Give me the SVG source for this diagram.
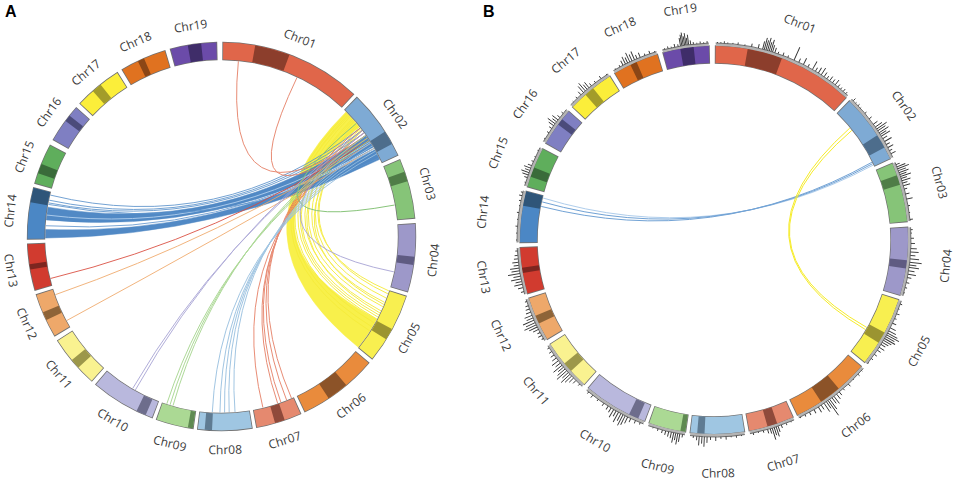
<svg xmlns="http://www.w3.org/2000/svg" width="957" height="482" viewBox="0 0 957 482">
<style>
.lbl{font-family:"Open Sans","Liberation Sans",sans-serif;font-size:12px;fill:#3a3a3a;text-anchor:middle;dominant-baseline:central}
.pl{font-family:"Liberation Sans",Arial,sans-serif;font-size:16px;font-weight:bold;fill:#000}
.ol{fill:none;stroke:#707070;stroke-width:18.4}
.seg{fill:none;stroke-width:17}
.bl{fill:none;stroke:#b4b4b4;stroke-width:2.6}
.bk{fill:none;stroke:#555;stroke-width:.8}
.h path{stroke:#333;stroke-width:.9;fill:none}
.lk path{fill:none;stroke-width:1}
</style>
<rect width="957" height="482" fill="#fff"/>
<text class="pl" x="5" y="17">A</text>
<text class="pl" x="483" y="17">B</text>

<!-- Panel A links -->
<g id="links-a" class="lk">
<path d="M345.95,112.05Q221.5,236.5 358.28,347.26A176,176 0 0 0 376.9,319.13Q221.5,236.5 359.24,126.94A176,176 0 0 0 345.95,112.05Z" style="fill:#f8ef3e;stroke:#f8ef3e;stroke-width:.5" opacity=".93"/>
<g stroke="#f6ec3a" opacity=".9">
<path d="M360.19,128.14Q265.5,236.5 387.91,293.8"/>
<path d="M361.1,129.3Q262.5,236.5 388.89,290.89"/>
<path d="M359.24,126.94Q259.5,236.5 386.35,298.14"/>
<path d="M358.28,125.74Q253.5,236.5 384.68,302.43"/>
<path d="M356.32,123.37Q248.5,236.5 382.9,306.68"/>
<path d="M354.33,121.03Q243.5,236.5 381.01,310.88"/>
<path d="M352.29,118.73Q238.5,236.5 379.01,315.03"/>
<path d="M350.22,116.47Q233.5,236.5 376.9,319.13"/>
<path d="M348.1,114.24Q229.5,236.5 374.68,323.17"/>
<path d="M362.06,130.58Q256.5,236.5 383.9,304.5"/>
<path d="M357.3,124.5Q246,236.5 380,313"/>
<path d="M353.3,119.9Q236,236.5 377.9,317"/>
<path d="M349.2,115.3Q226,236.5 372.36,327.15"/>
<path d="M347,113.1Q224,236.5 369.94,331.06"/>
</g>
<path d="M45.51,238.04Q221.5,236.5 379.69,159.35A176,176 0 0 0 374.68,149.83Q221.5,236.5 45.64,229.44A176,176 0 0 0 45.51,238.04Z" style="fill:#3f7dbf;stroke:#3f7dbf;stroke-width:.5" opacity=".9"/>
<path d="M46.28,219.94Q221.5,236.5 373.15,147.17A176,176 0 0 0 365.67,135.55Q221.5,236.5 47.96,207.15A176,176 0 0 0 46.28,219.94Z" style="fill:#3f7dbf;stroke:#3f7dbf;stroke-width:.5" opacity=".9"/>
<path d="M46.81,215.05Q221.5,236.5 369.94,141.94" stroke="#a9c9ea"/>
<path d="M45.83,225.76Q221.5,236.5 373.92,148.5" stroke="#7aa6d6"/>
<g stroke="#5c93cc" opacity=".85">
<path d="M49.28,200.21Q221.5,236.5 362.06,130.58"/>
<path d="M50.44,195.12Q221.5,236.5 360.19,128.14"/>
<path d="M48.73,202.92Q221.5,236.5 363.89,133.05"/>
<path d="M48.45,204.43Q221.5,236.5 379.01,157.97"/>
</g>
<g stroke="#e5795e" opacity=".85">
<path d="M238.37,61.31Q221.5,236.5 365.67,135.55"/>
<path d="M296.99,77.51Q221.5,236.5 367.41,138.08"/>
<path d="M291.4,398.02Q221.5,236.5 360.19,128.14"/>
<path d="M286.58,400.03Q221.5,236.5 362.06,130.58"/>
<path d="M280.83,402.2Q221.5,236.5 363.89,133.05"/>
<path d="M277.64,403.31Q221.5,236.5 365.67,135.55"/>
<path d="M262.88,407.56Q221.5,236.5 367.41,138.08"/>
</g>
<path d="M50.58,278.48Q221.5,236.5 369.11,140.64" stroke="#d8483a" opacity=".85"/>
<g stroke="#f0a868" opacity=".85">
<path d="M55.39,294.67Q221.5,236.5 370.76,143.23"/>
<path d="M66.83,320.48Q221.5,236.5 373.92,148.5"/>
</g>
<g stroke="#a9a5d6" opacity=".9">
<path d="M135.37,389.98Q221.5,236.5 362.06,130.58"/>
<path d="M132.7,388.46Q221.5,236.5 363.89,133.05"/>
<path d="M393.91,271.89Q221.5,236.5 365.67,135.55"/>
</g>
<g stroke="#a6d68e" opacity=".9">
<path d="M172.99,405.68Q221.5,236.5 365.67,135.55"/>
<path d="M170.04,404.81Q221.5,236.5 367.41,138.08"/>
<path d="M166.82,403.79Q221.5,236.5 369.11,140.64"/>
</g>
<path d="M394.66,205.03Q221.5,236.5 356.32,123.37" stroke="#88c47a"/>
<g stroke="#98c0e0" opacity=".9">
<path d="M235,411.98Q221.5,236.5 370.76,143.23"/>
<path d="M229.18,412.33Q221.5,236.5 372.36,145.85"/>
<path d="M224.57,412.47Q221.5,236.5 373.92,148.5"/>
<path d="M219.96,412.49Q221.5,236.5 375.43,151.17"/>
<path d="M212.29,412.26Q221.5,236.5 376.9,153.87"/>
</g>
</g>

<!-- Panel A chromosomes -->
<g id="a01" transform="translate(221.5 236.5)"><circle class="ol" r="185.5" pathLength="360" stroke-dasharray="42.8 400" transform="rotate(-89.75)"/><circle class="seg" r="185.5" pathLength="360" stroke="#e0664a" stroke-dasharray="42.3 400" transform="rotate(-89.5)"/><circle class="seg" r="185.5" pathLength="360" stroke="#8c3e2c" stroke-dasharray="10.5 400" transform="rotate(-80)"/><text class="lbl" transform="rotate(21.65) translate(0 -213)">Chr01</text></g>
<g id="a02" transform="translate(221.5 236.5)"><circle class="ol" r="185.5" pathLength="360" stroke-dasharray="21.4 400" transform="rotate(-45.95)"/><circle class="seg" r="185.5" pathLength="360" stroke="#7eaad4" stroke-dasharray="20.9 400" transform="rotate(-45.7)"/><circle class="seg" r="185.5" pathLength="360" stroke="#4d6d8c" stroke-dasharray="4.2 400" transform="rotate(-32.7)"/><text class="lbl" transform="rotate(54.75) translate(0 -213)">Chr02</text></g>
<g id="a03" transform="translate(221.5 236.5)"><circle class="ol" r="185.5" pathLength="360" stroke-dasharray="18.2 400" transform="rotate(-23.45)"/><circle class="seg" r="185.5" pathLength="360" stroke="#86c478" stroke-dasharray="17.7 400" transform="rotate(-23.2)"/><circle class="seg" r="185.5" pathLength="360" stroke="#4f7d47" stroke-dasharray="3 400" transform="rotate(-19.5)"/><text class="lbl" transform="rotate(75.65) translate(0 -213)">Chr03</text></g>
<g id="a04" transform="translate(221.5 236.5)"><circle class="ol" r="185.5" pathLength="360" stroke-dasharray="20.7 400" transform="rotate(-3.95)"/><circle class="seg" r="185.5" pathLength="360" stroke="#9d98c9" stroke-dasharray="20.2 400" transform="rotate(-3.7)"/><circle class="seg" r="185.5" pathLength="360" stroke="#5f5b82" stroke-dasharray="2.5 400" transform="rotate(6)"/><text class="lbl" transform="rotate(96.4) translate(0 -213) rotate(180)">Chr04</text></g>
<g id="a05" transform="translate(221.5 236.5)"><circle class="ol" r="185.5" pathLength="360" stroke-dasharray="21.5 400" transform="rotate(17.75)"/><circle class="seg" r="185.5" pathLength="360" stroke="#f8ef50" stroke-dasharray="21 400" transform="rotate(18)"/><circle class="seg" r="185.5" pathLength="360" stroke="#9b9431" stroke-dasharray="3.5 400" transform="rotate(28.5)"/><text class="lbl" transform="rotate(118.5) translate(0 -213) rotate(180)">Chr05</text></g>
<g id="a06" transform="translate(221.5 236.5)"><circle class="ol" r="185.5" pathLength="360" stroke-dasharray="24.3 400" transform="rotate(40.45)"/><circle class="seg" r="185.5" pathLength="360" stroke="#e98b3c" stroke-dasharray="23.8 400" transform="rotate(40.7)"/><circle class="seg" r="185.5" pathLength="360" stroke="#8c5328" stroke-dasharray="6.5 400" transform="rotate(50)"/><text class="lbl" transform="rotate(142.6) translate(0 -213) rotate(180)">Chr06</text></g>
<g id="a07" transform="translate(221.5 236.5)"><circle class="ol" r="185.5" pathLength="360" stroke-dasharray="14 400" transform="rotate(65.75)"/><circle class="seg" r="185.5" pathLength="360" stroke="#e5896f" stroke-dasharray="13.5 400" transform="rotate(66)"/><circle class="seg" r="185.5" pathLength="360" stroke="#8f4a3b" stroke-dasharray="3 400" transform="rotate(71)"/><text class="lbl" transform="rotate(162.75) translate(0 -213) rotate(180)">Chr07</text></g>
<g id="a08" transform="translate(221.5 236.5)"><circle class="ol" r="185.5" pathLength="360" stroke-dasharray="16.5 400" transform="rotate(80.75)"/><circle class="seg" r="185.5" pathLength="360" stroke="#9fc6e2" stroke-dasharray="16 400" transform="rotate(81)"/><circle class="seg" r="185.5" pathLength="360" stroke="#5f7b92" stroke-dasharray="2.2 400" transform="rotate(92.8)"/><text class="lbl" transform="rotate(179) translate(0 -213) rotate(180)">Chr08</text></g>
<g id="a09" transform="translate(221.5 236.5)"><circle class="ol" r="185.5" pathLength="360" stroke-dasharray="11.5 400" transform="rotate(98.25)"/><circle class="seg" r="185.5" pathLength="360" stroke="#abd994" stroke-dasharray="11 400" transform="rotate(98.5)"/><circle class="seg" r="185.5" pathLength="360" stroke="#5f8a52" stroke-dasharray="1.5 400" transform="rotate(98.5)"/><text class="lbl" transform="rotate(194) translate(0 -213) rotate(180)">Chr09</text></g>
<g id="a10" transform="translate(221.5 236.5)"><circle class="ol" r="185.5" pathLength="360" stroke-dasharray="19.8 400" transform="rotate(110.75)"/><circle class="seg" r="185.5" pathLength="360" stroke="#b9b8dd" stroke-dasharray="19.3 400" transform="rotate(111)"/><circle class="seg" r="185.5" pathLength="360" stroke="#6d6d8c" stroke-dasharray="3 400" transform="rotate(113)"/><text class="lbl" transform="rotate(210.65) translate(0 -213) rotate(180)">Chr10</text></g>
<g id="a11" transform="translate(221.5 236.5)"><circle class="ol" r="185.5" pathLength="360" stroke-dasharray="16 400" transform="rotate(131.75)"/><circle class="seg" r="185.5" pathLength="360" stroke="#f9f290" stroke-dasharray="15.5 400" transform="rotate(132)"/><circle class="seg" r="185.5" pathLength="360" stroke="#9c974a" stroke-dasharray="3 400" transform="rotate(137.5)"/><text class="lbl" transform="rotate(229.75) translate(0 -213) rotate(180)">Chr11</text></g>
<g id="a12" transform="translate(221.5 236.5)"><circle class="ol" r="185.5" pathLength="360" stroke-dasharray="13.7 400" transform="rotate(149.05)"/><circle class="seg" r="185.5" pathLength="360" stroke="#eea86a" stroke-dasharray="13.2 400" transform="rotate(149.3)"/><circle class="seg" r="185.5" pathLength="360" stroke="#8e6438" stroke-dasharray="2.5 400" transform="rotate(154.5)"/><text class="lbl" transform="rotate(245.9) translate(0 -213) rotate(180)">Chr12</text></g>
<g id="a13" transform="translate(221.5 236.5)"><circle class="ol" r="185.5" pathLength="360" stroke-dasharray="14.2 400" transform="rotate(163.75)"/><circle class="seg" r="185.5" pathLength="360" stroke="#d13b2f" stroke-dasharray="13.7 400" transform="rotate(164)"/><circle class="seg" r="185.5" pathLength="360" stroke="#7d2620" stroke-dasharray="1.6 400" transform="rotate(170.2)"/><text class="lbl" transform="rotate(260.85) translate(0 -213) rotate(180)">Chr13</text></g>
<g id="a14" transform="translate(221.5 236.5)"><circle class="ol" r="185.5" pathLength="360" stroke-dasharray="15.7 400" transform="rotate(179.05)"/><circle class="seg" r="185.5" pathLength="360" stroke="#4b87c5" stroke-dasharray="15.2 400" transform="rotate(179.3)"/><circle class="seg" r="185.5" pathLength="360" stroke="#2f5579" stroke-dasharray="4.3 400" transform="rotate(190.2)"/><text class="lbl" transform="rotate(276.9) translate(0 -213)">Chr14</text></g>
<g id="a15" transform="translate(221.5 236.5)"><circle class="ol" r="185.5" pathLength="360" stroke-dasharray="12.5 400" transform="rotate(195.75)"/><circle class="seg" r="185.5" pathLength="360" stroke="#5fae5c" stroke-dasharray="12 400" transform="rotate(196)"/><circle class="seg" r="185.5" pathLength="360" stroke="#3a6b3a" stroke-dasharray="3 400" transform="rotate(199)"/><text class="lbl" transform="rotate(292) translate(0 -213)">Chr15</text></g>
<g id="a16" transform="translate(221.5 236.5)"><circle class="ol" r="185.5" pathLength="360" stroke-dasharray="12 400" transform="rotate(209.75)"/><circle class="seg" r="185.5" pathLength="360" stroke="#7f7fc2" stroke-dasharray="11.5 400" transform="rotate(210)"/><circle class="seg" r="185.5" pathLength="360" stroke="#4b4b7a" stroke-dasharray="2 400" transform="rotate(216.5)"/><text class="lbl" transform="rotate(305.75) translate(0 -213)">Chr16</text></g>
<g id="a17" transform="translate(221.5 236.5)"><circle class="ol" r="185.5" pathLength="360" stroke-dasharray="14.7 400" transform="rotate(223.05)"/><circle class="seg" r="185.5" pathLength="360" stroke="#fbee3a" stroke-dasharray="14.2 400" transform="rotate(223.3)"/><circle class="seg" r="185.5" pathLength="360" stroke="#a39c2a" stroke-dasharray="3 400" transform="rotate(228.5)"/><text class="lbl" transform="rotate(320.4) translate(0 -213)">Chr17</text></g>
<g id="a18" transform="translate(221.5 236.5)"><circle class="ol" r="185.5" pathLength="360" stroke-dasharray="14.2 400" transform="rotate(239.05)"/><circle class="seg" r="185.5" pathLength="360" stroke="#e07220" stroke-dasharray="13.7 400" transform="rotate(239.3)"/><circle class="seg" r="185.5" pathLength="360" stroke="#8b4616" stroke-dasharray="2 400" transform="rotate(244.5)"/><text class="lbl" transform="rotate(336.15) translate(0 -213)">Chr18</text></g>
<g id="a19" transform="translate(221.5 236.5)"><circle class="ol" r="185.5" pathLength="360" stroke-dasharray="14.2 400" transform="rotate(254.55)"/><circle class="seg" r="185.5" pathLength="360" stroke="#6b4ba9" stroke-dasharray="13.7 400" transform="rotate(254.8)"/><circle class="seg" r="185.5" pathLength="360" stroke="#3f2d69" stroke-dasharray="4 400" transform="rotate(260)"/><text class="lbl" transform="rotate(351.65) translate(0 -213)">Chr19</text></g>

<!-- Panel B links -->
<g id="links-b" class="lk">
<g stroke="#4f8ccb" opacity=".8">
<path d="M543.08,198.02Q714,250 873.25,165.06" stroke="#9cc2e8"/>
<path d="M542.17,201.91Q714,250 872.59,163.68"/>
<path d="M541.23,206.42Q714,250 871.92,162.29"/>
</g>
<g stroke="#f6ec2a" stroke-width="1.3">
<path d="M849.81,128.05Q720,244 865.49,329.59"/>
<path d="M851.74,130.44Q720,244 866.74,327.45"/>
</g>
</g>

<!-- Panel B chromosomes -->
<g id="b01" transform="translate(714 240)"><circle class="ol" r="185.5" pathLength="360" stroke-dasharray="42.8 400" transform="rotate(-89.75)"/><circle class="seg" r="185.5" pathLength="360" stroke="#e0664a" stroke-dasharray="42.3 400" transform="rotate(-89.5)"/><circle class="seg" r="185.5" pathLength="360" stroke="#8c3e2c" stroke-dasharray="10.5 400" transform="rotate(-80)"/><circle class="bl" r="195.5" pathLength="360" stroke-dasharray="42.3 400" transform="rotate(-89.5)"/><circle class="bk" r="197" pathLength="360" stroke-dasharray="42.3 400" transform="rotate(-89.5)"/>
<g class="h"><path d="M0-197v-1" transform="rotate(1)"/><path d="M0-197v-1" transform="rotate(2)"/><path d="M0-197v-2" transform="rotate(3)"/><path d="M0-197v-1" transform="rotate(4)"/><path d="M0-197v-1" transform="rotate(5.5)"/><path d="M0-197v-2" transform="rotate(7)"/><path d="M0-197v-1" transform="rotate(9)"/><path d="M0-197v-3" transform="rotate(11)"/><path d="M0-197v-4" transform="rotate(13)"/><path d="M0-197v-8" transform="rotate(14.3)"/><path d="M0-197v-12" transform="rotate(14.8)"/><path d="M0-197v-10" transform="rotate(15.3)"/><path d="M0-197v-13" transform="rotate(15.8)"/><path d="M0-197v-9" transform="rotate(16.3)"/><path d="M0-197v-12" transform="rotate(16.8)"/><path d="M0-197v-7" transform="rotate(17.3)"/><path d="M0-197v-5" transform="rotate(18)"/><path d="M0-197v-2" transform="rotate(19)"/><path d="M0-197v-3" transform="rotate(20.5)"/><path d="M0-197v-2" transform="rotate(22)"/><path d="M0-197v-14" transform="rotate(24)"/><path d="M0-197v-4" transform="rotate(25.5)"/><path d="M0-197v-7" transform="rotate(27)"/><path d="M0-197v-3" transform="rotate(28.5)"/><path d="M0-197v-9" transform="rotate(30)"/><path d="M0-197v-4" transform="rotate(31)"/><path d="M0-197v-6" transform="rotate(32)"/><path d="M0-197v-8" transform="rotate(33)"/><path d="M0-197v-5" transform="rotate(34)"/><path d="M0-197v-3" transform="rotate(35)"/><path d="M0-197v-5" transform="rotate(36)"/><path d="M0-197v-4" transform="rotate(37)"/><path d="M0-197v-6" transform="rotate(38)"/><path d="M0-197v-3" transform="rotate(39)"/><path d="M0-197v-2" transform="rotate(40)"/><path d="M0-197v-3" transform="rotate(41)"/><path d="M0-197v-2" transform="rotate(42)"/></g>
<text class="lbl" transform="rotate(21.65) translate(0 -233)">Chr01</text></g>
<g id="b02" transform="translate(714 240)"><circle class="ol" r="185.5" pathLength="360" stroke-dasharray="21.4 400" transform="rotate(-45.95)"/><circle class="seg" r="185.5" pathLength="360" stroke="#7eaad4" stroke-dasharray="20.9 400" transform="rotate(-45.7)"/><circle class="seg" r="185.5" pathLength="360" stroke="#4d6d8c" stroke-dasharray="4.2 400" transform="rotate(-32.7)"/><circle class="bl" r="195.5" pathLength="360" stroke-dasharray="20.9 400" transform="rotate(-45.7)"/><circle class="bk" r="197" pathLength="360" stroke-dasharray="20.9 400" transform="rotate(-45.7)"/>
<g class="h"><path d="M0-197v-3" transform="rotate(45)"/><path d="M0-197v-1" transform="rotate(46)"/><path d="M0-197v-2" transform="rotate(47)"/><path d="M0-197v-1" transform="rotate(48)"/><path d="M0-197v-2" transform="rotate(50)"/><path d="M0-197v-3" transform="rotate(52)"/><path d="M0-197v-5" transform="rotate(54)"/><path d="M0-197v-8" transform="rotate(55)"/><path d="M0-197v-12" transform="rotate(55.7)"/><path d="M0-197v-9" transform="rotate(56.3)"/><path d="M0-197v-11" transform="rotate(57)"/><path d="M0-197v-7" transform="rotate(57.6)"/><path d="M0-197v-10" transform="rotate(58.2)"/><path d="M0-197v-5" transform="rotate(59)"/><path d="M0-197v-8" transform="rotate(60)"/><path d="M0-197v-4" transform="rotate(61)"/><path d="M0-197v-6" transform="rotate(62)"/><path d="M0-197v-3" transform="rotate(63)"/><path d="M0-197v-5" transform="rotate(64)"/></g>
<text class="lbl" transform="rotate(54.75) translate(0 -233)">Chr02</text></g>
<g id="b03" transform="translate(714 240)"><circle class="ol" r="185.5" pathLength="360" stroke-dasharray="18.2 400" transform="rotate(-23.45)"/><circle class="seg" r="185.5" pathLength="360" stroke="#86c478" stroke-dasharray="17.7 400" transform="rotate(-23.2)"/><circle class="seg" r="185.5" pathLength="360" stroke="#4f7d47" stroke-dasharray="3 400" transform="rotate(-19.5)"/><circle class="bl" r="195.5" pathLength="360" stroke-dasharray="17.7 400" transform="rotate(-23.2)"/><circle class="bk" r="197" pathLength="360" stroke-dasharray="17.7 400" transform="rotate(-23.2)"/>
<g class="h"><path d="M0-197v-4" transform="rotate(67.5)"/><path d="M0-197v-9" transform="rotate(68.2)"/><path d="M0-197v-12" transform="rotate(68.8)"/><path d="M0-197v-8" transform="rotate(69.4)"/><path d="M0-197v-10" transform="rotate(70)"/><path d="M0-197v-7" transform="rotate(70.6)"/><path d="M0-197v-11" transform="rotate(71.2)"/><path d="M0-197v-6" transform="rotate(71.8)"/><path d="M0-197v-9" transform="rotate(72.5)"/><path d="M0-197v-5" transform="rotate(73.2)"/><path d="M0-197v-7" transform="rotate(74)"/><path d="M0-197v-3" transform="rotate(75)"/><path d="M0-197v-4" transform="rotate(76.5)"/><path d="M0-197v-6" transform="rotate(78)"/><path d="M0-197v-2" transform="rotate(80)"/><path d="M0-197v-1" transform="rotate(82)"/><path d="M0-197v-3" transform="rotate(84)"/></g>
<text class="lbl" transform="rotate(75.65) translate(0 -233)">Chr03</text></g>
<g id="b04" transform="translate(714 240)"><circle class="ol" r="185.5" pathLength="360" stroke-dasharray="20.7 400" transform="rotate(-3.95)"/><circle class="seg" r="185.5" pathLength="360" stroke="#9d98c9" stroke-dasharray="20.2 400" transform="rotate(-3.7)"/><circle class="seg" r="185.5" pathLength="360" stroke="#5f5b82" stroke-dasharray="2.5 400" transform="rotate(6)"/><circle class="bl" r="195.5" pathLength="360" stroke-dasharray="20.2 400" transform="rotate(-3.7)"/><circle class="bk" r="197" pathLength="360" stroke-dasharray="20.2 400" transform="rotate(-3.7)"/>
<g class="h"><path d="M0-197v-2" transform="rotate(87)"/><path d="M0-197v-1" transform="rotate(88)"/><path d="M0-197v-3" transform="rotate(89.5)"/><path d="M0-197v-4" transform="rotate(91)"/><path d="M0-197v-6" transform="rotate(92.5)"/><path d="M0-197v-8" transform="rotate(93.5)"/><path d="M0-197v-5" transform="rotate(94.5)"/><path d="M0-197v-9" transform="rotate(95.5)"/><path d="M0-197v-12" transform="rotate(96.5)"/><path d="M0-197v-7" transform="rotate(97.3)"/><path d="M0-197v-10" transform="rotate(98)"/><path d="M0-197v-6" transform="rotate(99)"/><path d="M0-197v-8" transform="rotate(100)"/><path d="M0-197v-4" transform="rotate(101)"/><path d="M0-197v-3" transform="rotate(102.5)"/><path d="M0-197v-2" transform="rotate(104)"/><path d="M0-197v-1" transform="rotate(105.5)"/></g>
<text class="lbl" transform="rotate(96.4) translate(0 -233) rotate(180)">Chr04</text></g>
<g id="b05" transform="translate(714 240)"><circle class="ol" r="185.5" pathLength="360" stroke-dasharray="21.5 400" transform="rotate(17.75)"/><circle class="seg" r="185.5" pathLength="360" stroke="#f8ef50" stroke-dasharray="21 400" transform="rotate(18)"/><circle class="seg" r="185.5" pathLength="360" stroke="#9b9431" stroke-dasharray="3.5 400" transform="rotate(28.5)"/><circle class="bl" r="195.5" pathLength="360" stroke-dasharray="21 400" transform="rotate(18)"/><circle class="bk" r="197" pathLength="360" stroke-dasharray="21 400" transform="rotate(18)"/>
<g class="h"><path d="M0-197v-2" transform="rotate(109)"/><path d="M0-197v-1" transform="rotate(110.5)"/><path d="M0-197v-3" transform="rotate(112)"/><path d="M0-197v-2" transform="rotate(113.5)"/><path d="M0-197v-4" transform="rotate(115)"/><path d="M0-197v-6" transform="rotate(116.5)"/><path d="M0-197v-8" transform="rotate(117.5)"/><path d="M0-197v-11" transform="rotate(118.2)"/><path d="M0-197v-14" transform="rotate(118.8)"/><path d="M0-197v-10" transform="rotate(119.4)"/><path d="M0-197v-12" transform="rotate(120)"/><path d="M0-197v-9" transform="rotate(120.6)"/><path d="M0-197v-7" transform="rotate(121.3)"/><path d="M0-197v-5" transform="rotate(122)"/><path d="M0-197v-6" transform="rotate(123)"/><path d="M0-197v-4" transform="rotate(124)"/><path d="M0-197v-3" transform="rotate(125.5)"/><path d="M0-197v-2" transform="rotate(127)"/><path d="M0-197v-1" transform="rotate(128.5)"/></g>
<text class="lbl" transform="rotate(118.5) translate(0 -233) rotate(180)">Chr05</text></g>
<g id="b06" transform="translate(714 240)"><circle class="ol" r="185.5" pathLength="360" stroke-dasharray="24.3 400" transform="rotate(40.45)"/><circle class="seg" r="185.5" pathLength="360" stroke="#e98b3c" stroke-dasharray="23.8 400" transform="rotate(40.7)"/><circle class="seg" r="185.5" pathLength="360" stroke="#8c5328" stroke-dasharray="6.5 400" transform="rotate(50)"/><circle class="bl" r="195.5" pathLength="360" stroke-dasharray="23.8 400" transform="rotate(40.7)"/><circle class="bk" r="197" pathLength="360" stroke-dasharray="23.8 400" transform="rotate(40.7)"/>
<g class="h"><path d="M0-197v-1" transform="rotate(131.5)"/><path d="M0-197v-2" transform="rotate(133)"/><path d="M0-197v-1" transform="rotate(135)"/><path d="M0-197v-3" transform="rotate(137)"/><path d="M0-197v-2" transform="rotate(139)"/><path d="M0-197v-4" transform="rotate(140.5)"/><path d="M0-197v-6" transform="rotate(141.5)"/><path d="M0-197v-9" transform="rotate(142.5)"/><path d="M0-197v-7" transform="rotate(143.2)"/><path d="M0-197v-12" transform="rotate(144)"/><path d="M0-197v-18" transform="rotate(144.6)"/><path d="M0-197v-8" transform="rotate(145.2)"/><path d="M0-197v-10" transform="rotate(146)"/><path d="M0-197v-5" transform="rotate(147)"/><path d="M0-197v-6" transform="rotate(148)"/><path d="M0-197v-4" transform="rotate(149.5)"/><path d="M0-197v-3" transform="rotate(151)"/><path d="M0-197v-2" transform="rotate(152.5)"/><path d="M0-197v-1" transform="rotate(154)"/></g>
<text class="lbl" transform="rotate(142.6) translate(0 -233) rotate(180)">Chr06</text></g>
<g id="b07" transform="translate(714 240)"><circle class="ol" r="185.5" pathLength="360" stroke-dasharray="14 400" transform="rotate(65.75)"/><circle class="seg" r="185.5" pathLength="360" stroke="#e5896f" stroke-dasharray="13.5 400" transform="rotate(66)"/><circle class="seg" r="185.5" pathLength="360" stroke="#8f4a3b" stroke-dasharray="3 400" transform="rotate(71)"/><circle class="bl" r="195.5" pathLength="360" stroke-dasharray="13.5 400" transform="rotate(66)"/><circle class="bk" r="197" pathLength="360" stroke-dasharray="13.5 400" transform="rotate(66)"/>
<g class="h"><path d="M0-197v-1" transform="rotate(157)"/><path d="M0-197v-2" transform="rotate(158.5)"/><path d="M0-197v-3" transform="rotate(160)"/><path d="M0-197v-6" transform="rotate(161)"/><path d="M0-197v-10" transform="rotate(161.6)"/><path d="M0-197v-8" transform="rotate(162.2)"/><path d="M0-197v-12" transform="rotate(162.8)"/><path d="M0-197v-5" transform="rotate(163.4)"/><path d="M0-197v-4" transform="rotate(164.2)"/><path d="M0-197v-2" transform="rotate(165.5)"/><path d="M0-197v-1" transform="rotate(167)"/><path d="M0-197v-2" transform="rotate(168.5)"/></g>
<text class="lbl" transform="rotate(162.75) translate(0 -233) rotate(180)">Chr07</text></g>
<g id="b08" transform="translate(714 240)"><circle class="ol" r="185.5" pathLength="360" stroke-dasharray="16.5 400" transform="rotate(80.75)"/><circle class="seg" r="185.5" pathLength="360" stroke="#9fc6e2" stroke-dasharray="16 400" transform="rotate(81)"/><circle class="seg" r="185.5" pathLength="360" stroke="#5f7b92" stroke-dasharray="2.2 400" transform="rotate(92.8)"/><circle class="bl" r="195.5" pathLength="360" stroke-dasharray="16 400" transform="rotate(81)"/><circle class="bk" r="197" pathLength="360" stroke-dasharray="16 400" transform="rotate(81)"/>
<g class="h"><path d="M0-197v-1" transform="rotate(172)"/><path d="M0-197v-2" transform="rotate(173.5)"/><path d="M0-197v-1" transform="rotate(175)"/><path d="M0-197v-3" transform="rotate(176.5)"/><path d="M0-197v-2" transform="rotate(178)"/><path d="M0-197v-4" transform="rotate(179.5)"/><path d="M0-197v-3" transform="rotate(181)"/><path d="M0-197v-6" transform="rotate(182)"/><path d="M0-197v-10" transform="rotate(182.8)"/><path d="M0-197v-7" transform="rotate(183.5)"/><path d="M0-197v-9" transform="rotate(184.3)"/><path d="M0-197v-4" transform="rotate(185)"/><path d="M0-197v-2" transform="rotate(186)"/></g>
<text class="lbl" transform="rotate(179) translate(0 -233) rotate(180)">Chr08</text></g>
<g id="b09" transform="translate(714 240)"><circle class="ol" r="185.5" pathLength="360" stroke-dasharray="11.5 400" transform="rotate(98.25)"/><circle class="seg" r="185.5" pathLength="360" stroke="#abd994" stroke-dasharray="11 400" transform="rotate(98.5)"/><circle class="seg" r="185.5" pathLength="360" stroke="#5f8a52" stroke-dasharray="1.5 400" transform="rotate(98.5)"/><circle class="bl" r="195.5" pathLength="360" stroke-dasharray="11 400" transform="rotate(98.5)"/><circle class="bk" r="197" pathLength="360" stroke-dasharray="11 400" transform="rotate(98.5)"/>
<g class="h"><path d="M0-197v-3" transform="rotate(189.2)"/><path d="M0-197v-8" transform="rotate(190)"/><path d="M0-197v-11" transform="rotate(190.6)"/><path d="M0-197v-7" transform="rotate(191.2)"/><path d="M0-197v-10" transform="rotate(191.8)"/><path d="M0-197v-6" transform="rotate(192.5)"/><path d="M0-197v-5" transform="rotate(193.3)"/><path d="M0-197v-4" transform="rotate(194.2)"/><path d="M0-197v-3" transform="rotate(195.2)"/><path d="M0-197v-2" transform="rotate(196.5)"/><path d="M0-197v-1" transform="rotate(198)"/></g>
<text class="lbl" transform="rotate(194) translate(0 -233) rotate(180)">Chr09</text></g>
<g id="b10" transform="translate(714 240)"><circle class="ol" r="185.5" pathLength="360" stroke-dasharray="19.8 400" transform="rotate(110.75)"/><circle class="seg" r="185.5" pathLength="360" stroke="#b9b8dd" stroke-dasharray="19.3 400" transform="rotate(111)"/><circle class="seg" r="185.5" pathLength="360" stroke="#6d6d8c" stroke-dasharray="3 400" transform="rotate(113)"/><circle class="bl" r="195.5" pathLength="360" stroke-dasharray="19.3 400" transform="rotate(111)"/><circle class="bk" r="197" pathLength="360" stroke-dasharray="19.3 400" transform="rotate(111)"/>
<g class="h"><path d="M0-197v-2" transform="rotate(202)"/><path d="M0-197v-3" transform="rotate(203.5)"/><path d="M0-197v-4" transform="rotate(205)"/><path d="M0-197v-7" transform="rotate(206)"/><path d="M0-197v-10" transform="rotate(206.8)"/><path d="M0-197v-12" transform="rotate(207.5)"/><path d="M0-197v-8" transform="rotate(208.2)"/><path d="M0-197v-11" transform="rotate(209)"/><path d="M0-197v-6" transform="rotate(209.8)"/><path d="M0-197v-9" transform="rotate(210.6)"/><path d="M0-197v-5" transform="rotate(211.5)"/><path d="M0-197v-4" transform="rotate(212.5)"/><path d="M0-197v-3" transform="rotate(214)"/><path d="M0-197v-2" transform="rotate(216)"/><path d="M0-197v-3" transform="rotate(218)"/><path d="M0-197v-2" transform="rotate(219.5)"/></g>
<text class="lbl" transform="rotate(210.65) translate(0 -233) rotate(180)">Chr10</text></g>
<g id="b11" transform="translate(714 240)"><circle class="ol" r="185.5" pathLength="360" stroke-dasharray="16 400" transform="rotate(131.75)"/><circle class="seg" r="185.5" pathLength="360" stroke="#f9f290" stroke-dasharray="15.5 400" transform="rotate(132)"/><circle class="seg" r="185.5" pathLength="360" stroke="#9c974a" stroke-dasharray="3 400" transform="rotate(137.5)"/><circle class="bl" r="195.5" pathLength="360" stroke-dasharray="15.5 400" transform="rotate(132)"/><circle class="bk" r="197" pathLength="360" stroke-dasharray="15.5 400" transform="rotate(132)"/>
<g class="h"><path d="M0-197v-2" transform="rotate(223)"/><path d="M0-197v-4" transform="rotate(224.5)"/><path d="M0-197v-6" transform="rotate(225.5)"/><path d="M0-197v-9" transform="rotate(226.3)"/><path d="M0-197v-12" transform="rotate(227)"/><path d="M0-197v-8" transform="rotate(227.7)"/><path d="M0-197v-13" transform="rotate(228.4)"/><path d="M0-197v-10" transform="rotate(229.1)"/><path d="M0-197v-7" transform="rotate(229.8)"/><path d="M0-197v-11" transform="rotate(230.5)"/><path d="M0-197v-6" transform="rotate(231.3)"/><path d="M0-197v-8" transform="rotate(232.2)"/><path d="M0-197v-5" transform="rotate(233.2)"/><path d="M0-197v-4" transform="rotate(234.3)"/><path d="M0-197v-3" transform="rotate(235.5)"/><path d="M0-197v-2" transform="rotate(236.8)"/></g>
<text class="lbl" transform="rotate(229.75) translate(0 -233) rotate(180)">Chr11</text></g>
<g id="b12" transform="translate(714 240)"><circle class="ol" r="185.5" pathLength="360" stroke-dasharray="13.7 400" transform="rotate(149.05)"/><circle class="seg" r="185.5" pathLength="360" stroke="#eea86a" stroke-dasharray="13.2 400" transform="rotate(149.3)"/><circle class="seg" r="185.5" pathLength="360" stroke="#8e6438" stroke-dasharray="2.5 400" transform="rotate(154.5)"/><circle class="bl" r="195.5" pathLength="360" stroke-dasharray="13.2 400" transform="rotate(149.3)"/><circle class="bk" r="197" pathLength="360" stroke-dasharray="13.2 400" transform="rotate(149.3)"/>
<g class="h"><path d="M0-197v-2" transform="rotate(240)"/><path d="M0-197v-4" transform="rotate(241)"/><path d="M0-197v-3" transform="rotate(242)"/><path d="M0-197v-6" transform="rotate(243)"/><path d="M0-197v-9" transform="rotate(243.8)"/><path d="M0-197v-13" transform="rotate(244.5)"/><path d="M0-197v-10" transform="rotate(245.2)"/><path d="M0-197v-12" transform="rotate(246)"/><path d="M0-197v-7" transform="rotate(246.7)"/><path d="M0-197v-8" transform="rotate(247.5)"/><path d="M0-197v-5" transform="rotate(248.5)"/><path d="M0-197v-4" transform="rotate(249.5)"/><path d="M0-197v-3" transform="rotate(250.5)"/><path d="M0-197v-2" transform="rotate(251.8)"/></g>
<text class="lbl" transform="rotate(245.9) translate(0 -233) rotate(180)">Chr12</text></g>
<g id="b13" transform="translate(714 240)"><circle class="ol" r="185.5" pathLength="360" stroke-dasharray="14.2 400" transform="rotate(163.75)"/><circle class="seg" r="185.5" pathLength="360" stroke="#d13b2f" stroke-dasharray="13.7 400" transform="rotate(164)"/><circle class="seg" r="185.5" pathLength="360" stroke="#7d2620" stroke-dasharray="1.6 400" transform="rotate(170.2)"/><circle class="bl" r="195.5" pathLength="360" stroke-dasharray="13.7 400" transform="rotate(164)"/><circle class="bk" r="197" pathLength="360" stroke-dasharray="13.7 400" transform="rotate(164)"/>
<g class="h"><path d="M0-197v-3" transform="rotate(254.8)"/><path d="M0-197v-5" transform="rotate(256)"/><path d="M0-197v-8" transform="rotate(257)"/><path d="M0-197v-6" transform="rotate(257.8)"/><path d="M0-197v-10" transform="rotate(258.6)"/><path d="M0-197v-7" transform="rotate(259.4)"/><path d="M0-197v-12" transform="rotate(260.2)"/><path d="M0-197v-8" transform="rotate(261)"/><path d="M0-197v-9" transform="rotate(261.8)"/><path d="M0-197v-5" transform="rotate(262.6)"/><path d="M0-197v-6" transform="rotate(263.5)"/><path d="M0-197v-4" transform="rotate(264.5)"/><path d="M0-197v-3" transform="rotate(265.5)"/><path d="M0-197v-2" transform="rotate(266.8)"/></g>
<text class="lbl" transform="rotate(260.85) translate(0 -233) rotate(180)">Chr13</text></g>
<g id="b14" transform="translate(714 240)"><circle class="ol" r="185.5" pathLength="360" stroke-dasharray="15.7 400" transform="rotate(179.05)"/><circle class="seg" r="185.5" pathLength="360" stroke="#4b87c5" stroke-dasharray="15.2 400" transform="rotate(179.3)"/><circle class="seg" r="185.5" pathLength="360" stroke="#2f5579" stroke-dasharray="4.3 400" transform="rotate(190.2)"/><circle class="bl" r="195.5" pathLength="360" stroke-dasharray="15.2 400" transform="rotate(179.3)"/><circle class="bk" r="197" pathLength="360" stroke-dasharray="15.2 400" transform="rotate(179.3)"/>
<g class="h"><path d="M0-197v-1" transform="rotate(270)"/><path d="M0-197v-1" transform="rotate(272)"/><path d="M0-197v-2" transform="rotate(274)"/><path d="M0-197v-1" transform="rotate(276)"/><path d="M0-197v-2" transform="rotate(278)"/><path d="M0-197v-1" transform="rotate(280)"/><path d="M0-197v-2" transform="rotate(281.5)"/><path d="M0-197v-3" transform="rotate(283)"/><path d="M0-197v-2" transform="rotate(284)"/></g>
<text class="lbl" transform="rotate(276.9) translate(0 -233)">Chr14</text></g>
<g id="b15" transform="translate(714 240)"><circle class="ol" r="185.5" pathLength="360" stroke-dasharray="12.5 400" transform="rotate(195.75)"/><circle class="seg" r="185.5" pathLength="360" stroke="#5fae5c" stroke-dasharray="12 400" transform="rotate(196)"/><circle class="seg" r="185.5" pathLength="360" stroke="#3a6b3a" stroke-dasharray="3 400" transform="rotate(199)"/><circle class="bl" r="195.5" pathLength="360" stroke-dasharray="12 400" transform="rotate(196)"/><circle class="bk" r="197" pathLength="360" stroke-dasharray="12 400" transform="rotate(196)"/>
<g class="h"><path d="M0-197v-1" transform="rotate(287)"/><path d="M0-197v-3" transform="rotate(288.5)"/><path d="M0-197v-6" transform="rotate(289.3)"/><path d="M0-197v-8" transform="rotate(290)"/><path d="M0-197v-5" transform="rotate(290.7)"/><path d="M0-197v-7" transform="rotate(291.4)"/><path d="M0-197v-4" transform="rotate(292.2)"/><path d="M0-197v-2" transform="rotate(293.5)"/><path d="M0-197v-1" transform="rotate(295)"/><path d="M0-197v-1" transform="rotate(297)"/></g>
<text class="lbl" transform="rotate(292) translate(0 -233)">Chr15</text></g>
<g id="b16" transform="translate(714 240)"><circle class="ol" r="185.5" pathLength="360" stroke-dasharray="12 400" transform="rotate(209.75)"/><circle class="seg" r="185.5" pathLength="360" stroke="#7f7fc2" stroke-dasharray="11.5 400" transform="rotate(210)"/><circle class="seg" r="185.5" pathLength="360" stroke="#4b4b7a" stroke-dasharray="2 400" transform="rotate(216.5)"/><circle class="bl" r="195.5" pathLength="360" stroke-dasharray="11.5 400" transform="rotate(210)"/><circle class="bk" r="197" pathLength="360" stroke-dasharray="11.5 400" transform="rotate(210)"/>
<g class="h"><path d="M0-197v-1" transform="rotate(301)"/><path d="M0-197v-2" transform="rotate(303)"/><path d="M0-197v-3" transform="rotate(304.5)"/><path d="M0-197v-6" transform="rotate(305.5)"/><path d="M0-197v-9" transform="rotate(306.2)"/><path d="M0-197v-5" transform="rotate(306.9)"/><path d="M0-197v-7" transform="rotate(307.6)"/><path d="M0-197v-3" transform="rotate(308.5)"/><path d="M0-197v-2" transform="rotate(310)"/></g>
<text class="lbl" transform="rotate(305.75) translate(0 -233)">Chr16</text></g>
<g id="b17" transform="translate(714 240)"><circle class="ol" r="185.5" pathLength="360" stroke-dasharray="14.7 400" transform="rotate(223.05)"/><circle class="seg" r="185.5" pathLength="360" stroke="#fbee3a" stroke-dasharray="14.2 400" transform="rotate(223.3)"/><circle class="seg" r="185.5" pathLength="360" stroke="#a39c2a" stroke-dasharray="3 400" transform="rotate(228.5)"/><circle class="bl" r="195.5" pathLength="360" stroke-dasharray="14.2 400" transform="rotate(223.3)"/><circle class="bk" r="197" pathLength="360" stroke-dasharray="14.2 400" transform="rotate(223.3)"/>
<g class="h"><path d="M0-197v-1" transform="rotate(314.5)"/><path d="M0-197v-2" transform="rotate(316)"/><path d="M0-197v-4" transform="rotate(317.5)"/><path d="M0-197v-8" transform="rotate(318.5)"/><path d="M0-197v-10" transform="rotate(319.2)"/><path d="M0-197v-6" transform="rotate(319.9)"/><path d="M0-197v-7" transform="rotate(320.6)"/><path d="M0-197v-3" transform="rotate(321.5)"/><path d="M0-197v-2" transform="rotate(323)"/><path d="M0-197v-3" transform="rotate(325)"/><path d="M0-197v-1" transform="rotate(327)"/></g>
<text class="lbl" transform="rotate(320.4) translate(0 -233)">Chr17</text></g>
<g id="b18" transform="translate(714 240)"><circle class="ol" r="185.5" pathLength="360" stroke-dasharray="14.2 400" transform="rotate(239.05)"/><circle class="seg" r="185.5" pathLength="360" stroke="#e07220" stroke-dasharray="13.7 400" transform="rotate(239.3)"/><circle class="seg" r="185.5" pathLength="360" stroke="#8b4616" stroke-dasharray="2 400" transform="rotate(244.5)"/><circle class="bl" r="195.5" pathLength="360" stroke-dasharray="13.7 400" transform="rotate(239.3)"/><circle class="bk" r="197" pathLength="360" stroke-dasharray="13.7 400" transform="rotate(239.3)"/>
<g class="h"><path d="M0-197v-1" transform="rotate(330)"/><path d="M0-197v-2" transform="rotate(331.5)"/><path d="M0-197v-5" transform="rotate(332.5)"/><path d="M0-197v-8" transform="rotate(333.3)"/><path d="M0-197v-6" transform="rotate(334)"/><path d="M0-197v-10" transform="rotate(334.7)"/><path d="M0-197v-7" transform="rotate(335.4)"/><path d="M0-197v-9" transform="rotate(336.2)"/><path d="M0-197v-4" transform="rotate(337)"/><path d="M0-197v-5" transform="rotate(338)"/><path d="M0-197v-2" transform="rotate(339.5)"/><path d="M0-197v-3" transform="rotate(341)"/><path d="M0-197v-1" transform="rotate(342.5)"/></g>
<text class="lbl" transform="rotate(336.15) translate(0 -233)">Chr18</text></g>
<g id="b19" transform="translate(714 240)"><circle class="ol" r="185.5" pathLength="360" stroke-dasharray="14.2 400" transform="rotate(254.55)"/><circle class="seg" r="185.5" pathLength="360" stroke="#6b4ba9" stroke-dasharray="13.7 400" transform="rotate(254.8)"/><circle class="seg" r="185.5" pathLength="360" stroke="#3f2d69" stroke-dasharray="4 400" transform="rotate(260)"/><circle class="bl" r="195.5" pathLength="360" stroke-dasharray="13.7 400" transform="rotate(254.8)"/><circle class="bk" r="197" pathLength="360" stroke-dasharray="13.7 400" transform="rotate(254.8)"/>
<g class="h"><path d="M0-197v-1" transform="rotate(345.5)"/><path d="M0-197v-2" transform="rotate(346.5)"/><path d="M0-197v-1" transform="rotate(347.5)"/><path d="M0-197v-3" transform="rotate(348.5)"/><path d="M0-197v-2" transform="rotate(349.5)"/><path d="M0-197v-8" transform="rotate(350.2)"/><path d="M0-197v-11" transform="rotate(350.6)"/><path d="M0-197v-13" transform="rotate(351)"/><path d="M0-197v-9" transform="rotate(351.4)"/><path d="M0-197v-12" transform="rotate(351.8)"/><path d="M0-197v-7" transform="rotate(352.2)"/><path d="M0-197v-10" transform="rotate(352.6)"/><path d="M0-197v-4" transform="rotate(353.2)"/><path d="M0-197v-2" transform="rotate(354)"/><path d="M0-197v-1" transform="rotate(355)"/><path d="M0-197v-2" transform="rotate(356)"/><path d="M0-197v-1" transform="rotate(357)"/><path d="M0-197v-2" transform="rotate(358)"/></g>
<text class="lbl" transform="rotate(351.65) translate(0 -233)">Chr19</text></g>
</svg>
